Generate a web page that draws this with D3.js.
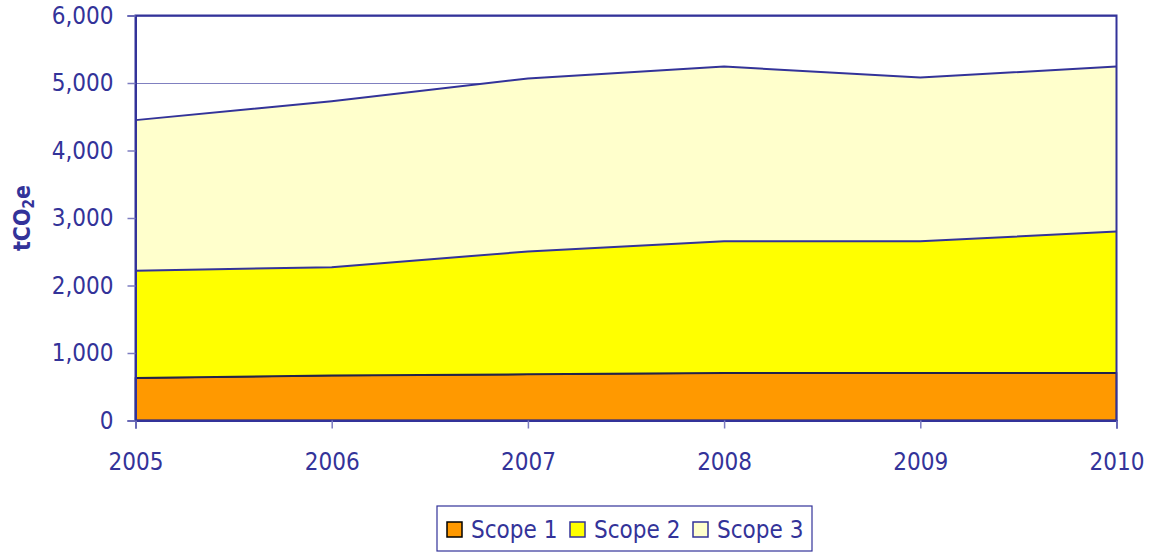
<!DOCTYPE html>
<html>
<head>
<meta charset="utf-8">
<script src="https://cdn.jsdelivr.net/npm/d3@7"></script>
<style>
  body { margin: 0; background: #fff; }
  text { font-family: "DejaVu Sans Condensed", "DejaVu Sans", sans-serif; fill: #333399; }
</style>
</head>
<body>
<script>
// data (tCO2e)
var years = [2005, 2006, 2007, 2008, 2009, 2010];
var scope1 = [630, 665, 685, 705, 705, 705];
var scope2 = [1590, 1607, 1819, 1951, 1951, 2095];
var scope3 = [2230, 2459, 2563, 2588, 2425, 2444];
var yTicks = [0, 1000, 2000, 3000, 4000, 5000, 6000];
var seriesNames = ["Scope 1", "Scope 2", "Scope 3"];
var colors = ["#FF9900", "#FFFF00", "#FFFFCC"];
var strokes = ["#111111", "#333399", "#333399"];

var width = 1159,
    height = 552;
var margin = {left: 135.5, right: 42.5, top: 15.5, bottom: 131.5};

var svg = d3.select("body").append("svg")
    .attr("width", width)
    .attr("height", height);

var rows = years.map(function(y, i) {
    return {year: y, "Scope 1": scope1[i], "Scope 2": scope2[i], "Scope 3": scope3[i]};
});

var x = d3.scaleLinear()
    .domain([years[0], years[years.length - 1]])
    .range([margin.left, width - margin.right]);

var y = d3.scaleLinear()
    .domain([0, 6000])
    .range([height - margin.bottom, margin.top]);

var stacked = d3.stack().keys(seriesNames)(rows);

// gridlines
svg.append("g")
    .selectAll("line")
    .data(yTicks)
    .enter().append("line")
    .attr("x1", x.range()[0])
    .attr("x2", x.range()[1])
    .attr("y1", function(d) { return Math.round(y(d)) + 0.5; })
    .attr("y2", function(d) { return Math.round(y(d)) + 0.5; })
    .attr("stroke", "#8080c0")
    .attr("stroke-width", 1);

var area = d3.area()
    .x(function(d) { return x(d.data.year); })
    .y0(function(d) { return y(d[0]); })
    .y1(function(d) { return y(d[1]); });

var topLine = d3.line()
    .x(function(d) { return x(d.data.year); })
    .y(function(d) { return y(d[1]); });

svg.append("g")
    .selectAll("path")
    .data(stacked)
    .enter().append("path")
    .attr("d", area)
    .attr("fill", function(d, i) { return colors[i]; })
    .attr("stroke", function(d, i) { return i == 0 ? strokes[0] : "none"; })
    .attr("stroke-width", 1.5);

svg.append("g")
    .selectAll("path")
    .data(stacked)
    .enter().append("path")
    .attr("d", topLine)
    .attr("fill", "none")
    .attr("stroke", function(d, i) { return i == 0 ? "#22224a" : strokes[i]; })
    .attr("stroke-width", 2);

// plot frame
svg.append("rect")
    .attr("x", x.range()[0])
    .attr("y", y.range()[1])
    .attr("width", x.range()[1] - x.range()[0])
    .attr("height", y.range()[0] - y.range()[1])
    .attr("fill", "none")
    .attr("stroke", "#333399")
    .attr("stroke-width", 2);

// y axis
var yAxis = svg.append("g")
    .attr("transform", "translate(" + x.range()[0] + ",0)")
    .call(d3.axisLeft(y).tickValues(yTicks).tickSize(8).tickPadding(14)
        .tickFormat(d3.format(",")));
yAxis.select(".domain").attr("stroke", "#333399").attr("stroke-width", 2);
yAxis.selectAll(".tick line").attr("stroke", "#7c7cc0").attr("stroke-width", 1.5);
yAxis.selectAll("text")
    .attr("font-size", 24)
    .attr("font-family", null)
    .attr("fill", "#333399");

// x axis
var xAxis = svg.append("g")
    .attr("transform", "translate(0," + y.range()[0] + ")")
    .call(d3.axisBottom(x).tickValues(years).tickSize(8).tickPadding(24)
        .tickFormat(d3.format("d")));
xAxis.select(".domain").attr("stroke", "#333399").attr("stroke-width", 2);
xAxis.selectAll(".tick line").attr("stroke", "#7c7cc0").attr("stroke-width", 1.5);
xAxis.selectAll("text")
    .attr("font-size", 24)
    .attr("font-family", null)
    .attr("fill", "#333399");

// y title
var yt = svg.append("text")
    .attr("transform", "translate(30," + ((y.range()[0] + y.range()[1]) / 2) + ") rotate(-90)")
    .attr("text-anchor", "middle")
    .attr("font-size", 23)
    .attr("font-weight", "bold");
yt.append("tspan").text("tCO");
yt.append("tspan").attr("font-size", 15).attr("dy", 4).text("2");
yt.append("tspan").attr("dy", -4).text("e");

// legend
var legend = svg.append("g").attr("transform", "translate(437,506)");
legend.append("rect")
    .attr("width", 375)
    .attr("height", 45)
    .attr("fill", "#fff")
    .attr("stroke", "#333399")
    .attr("stroke-width", 1.2);
var legX = [10, 133, 256];
var item = legend.selectAll(".item")
    .data(seriesNames)
    .enter().append("g")
    .attr("class", "item")
    .attr("transform", function(d, i) { return "translate(" + legX[i] + ",16)"; });
item.append("rect")
    .attr("width", 15)
    .attr("height", 15)
    .attr("fill", function(d, i) { return colors[i]; })
    .attr("stroke", function(d, i) { return i == 0 ? "#000" : "#333399"; })
    .attr("stroke-width", 1.5);
item.append("text")
    .attr("x", 24)
    .attr("y", 8)
    .attr("dy", "0.35em")
    .attr("font-size", 24)
    .text(function(d) { return d; });
</script>
</body>
</html>
